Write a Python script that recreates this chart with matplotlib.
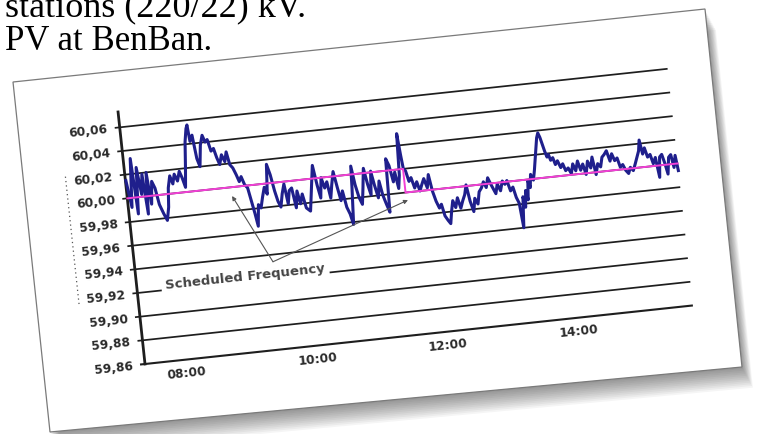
import matplotlib
matplotlib.use("Agg")
import matplotlib.pyplot as plt
from matplotlib.patches import Polygon
from matplotlib.transforms import Affine2D
import numpy as np

# document text around the picture
line1 = "stations (220/22) kV."
line2 = "PV at BenBan."

# frequency trace, hours of day / Hz
hours = [7.393, 7.443, 7.494, 7.529, 7.569, 7.610, 7.645, 7.680, 7.710, 7.745,
         7.781, 7.821, 7.861, 7.912, 7.957, 7.997, 8.022, 8.063, 8.098, 8.133,
         8.173, 8.214, 8.249, 8.284, 8.314, 8.350, 8.385, 8.405, 8.425, 8.465,
         8.501, 8.536, 8.576, 8.617, 8.652, 8.687, 8.727, 8.768, 8.803, 8.838,
         8.878, 8.919, 8.954, 8.989, 9.029, 9.070, 9.105, 9.140, 9.180, 9.221,
         9.256, 9.291, 9.321, 9.357, 9.392, 9.432, 9.473, 9.508, 9.543, 9.583,
         9.624, 9.659, 9.694, 9.734, 9.775, 9.810, 9.845, 9.885, 9.926, 9.961,
         9.996, 10.036, 10.077,
         10.135, 10.185, 10.235, 10.276, 10.311, 10.346, 10.386, 10.427, 10.462, 10.497,
         10.538, 10.578, 10.613, 10.648, 10.689, 10.729, 10.764, 10.799, 10.814, 10.850,
         10.890, 10.930, 10.965, 11.001, 11.041, 11.076, 11.106, 11.142, 11.182, 11.217,
         11.252, 11.293, 11.333, 11.353, 11.393, 11.434, 11.469, 11.504, 11.534, 11.560,
         11.585, 11.605, 11.635, 11.670, 11.706, 11.746, 11.786, 11.821, 11.857, 11.897,
         11.937, 11.972, 12.008, 12.048, 12.088, 12.123, 12.159, 12.199, 12.234, 12.265,
         12.300, 12.335, 12.375, 12.411, 12.451, 12.491, 12.526, 12.562, 12.602, 12.637,
         12.677, 12.713, 12.753, 12.793, 12.828, 12.864, 12.904,
         12.964, 12.999, 13.039, 13.080, 13.115, 13.150, 13.190, 13.231, 13.266, 13.301,
         13.331, 13.367, 13.392, 13.417, 13.442, 13.467, 13.493, 13.518, 13.553, 13.583,
         13.618, 13.644, 13.669, 13.694, 13.719, 13.744, 13.769, 13.795, 13.820, 13.845,
         13.880, 13.910, 13.946, 13.986, 14.021, 14.056, 14.097, 14.137, 14.172, 14.208,
         14.248, 14.283, 14.323, 14.359, 14.399, 14.439, 14.474, 14.510, 14.550, 14.590,
         14.625, 14.661, 14.701, 14.741, 14.776, 14.812, 14.852, 14.887, 14.927, 14.963,
         15.003, 15.038, 15.078, 15.114, 15.154, 15.189, 15.214, 15.245, 15.280, 15.315,
         15.356, 15.391, 15.431, 15.466, 15.496, 15.532, 15.567, 15.597, 15.632, 15.668,
         15.698, 15.733, 15.758]
freq = [60.015, 59.992, 60.033, 59.986, 60.025, 60.002, 60.019, 59.985, 60.020, 59.993,
        60.012, 60.006, 59.992, 59.984, 59.978, 59.989, 60.005, 60.015, 60.008, 60.016,
        60.010, 60.018, 60.012, 60.004, 60.020, 60.042, 60.053, 60.056, 60.042, 60.047,
        60.027, 60.020, 60.038, 60.046, 60.040, 60.042, 60.032, 60.034, 60.026, 60.020,
        60.028, 60.022, 60.030, 60.019, 60.016, 60.010, 60.004, 60.008, 60.001, 59.998,
        59.987, 59.976, 59.965, 59.983, 59.980, 59.989, 59.997, 59.991, 60.016, 60.007,
        59.993, 59.984, 59.979, 59.990, 59.998, 59.981, 59.992, 59.994, 59.977, 59.991,
        59.980, 59.988, 59.976,
        59.973, 59.992, 60.011, 59.994, 59.983, 60.000, 59.991, 59.996, 59.982, 59.993,
        60.004, 59.990, 59.979, 59.987, 59.973, 59.967, 59.958, 59.989, 60.007, 59.991,
        59.980, 59.974, 59.988, 60.004, 59.990, 59.981, 60.001, 59.989, 59.978, 59.992,
        59.980, 59.972, 59.965, 60.010, 60.004, 59.990, 59.998, 59.984, 59.995, 60.030,
        60.012, 60.000, 59.998, 59.989, 59.992, 59.983, 59.988, 59.980, 59.985, 59.990,
        59.982, 59.993, 59.979, 59.970, 59.964, 59.967, 59.957, 59.953, 59.950, 59.960,
        59.969, 59.963, 59.971, 59.962, 59.968, 59.973, 59.981, 59.967, 59.958, 59.969,
        59.964, 59.974, 59.977, 59.982, 59.977, 59.985, 59.979,
        59.971, 59.979, 59.973, 59.981, 59.978, 59.981, 59.972, 59.975, 59.966, 59.961,
        59.940, 59.966, 59.957, 59.971, 59.963, 59.979, 59.973, 59.984, 59.979, 59.987,
        59.998, 60.006, 60.014, 60.018, 60.014, 60.008, 60.002, 59.997, 59.999, 59.994,
        59.996, 59.990, 59.993, 59.987, 59.990, 59.984, 59.986, 59.981, 59.989, 59.983,
        59.991, 59.983, 59.988, 59.979, 59.990, 59.984, 59.993, 59.978, 59.987, 59.984,
        59.992, 59.994, 59.997, 59.988, 59.994, 59.988, 59.990, 59.982, 59.984, 59.979,
        59.976, 59.981, 59.978, 59.983, 59.989, 59.994, 60.003, 59.991, 59.996, 59.988,
        59.990, 59.982, 59.987, 59.970, 59.987, 59.989, 59.981, 59.972, 59.986, 59.988,
        59.977, 59.987, 59.974]

# scheduled frequency (step for time error correction)
sched_hours = [7.386, 11.60, 11.60, 15.758]
sched_freq = [60.00, 60.00, 59.98, 59.98]

y_ticks = [60.06, 60.04, 60.02, 60.00, 59.98, 59.96, 59.94, 59.92, 59.90, 59.88, 59.86]
y_labels = ["60,06", "60,04", "60,02", "60,00", "59,98", "59,96",
            "59,94", "59,92", "59,90", "59,88", "59,86"]
x_ticks = [8, 10, 12, 14]
x_labels = ["08:00", "10:00", "12:00", "14:00"]

note = "Scheduled Frequency"
note_pos = (9.041, 59.925)
note_from = (9.485, 59.934)
note_to = [(8.973, 59.9926), (11.625, 59.9735)]

t0, t1 = 7.386, 15.76
f0, f1 = 59.86, 60.073

fig = plt.figure(figsize=(7.58, 4.35), dpi=100)
page = fig.add_axes([0, 0, 1, 1])
page.set_xlim(0, 758)
page.set_ylim(435, 0)
page.axis("off")

# document text (first line is cut by the top edge in the reference too)
page.text(306, 16, line1, ha="right", va="baseline", fontsize=26,
          family="Liberation Serif", color="black")
page.text(212, 50, line2, ha="right", va="baseline", fontsize=25,
          family="Liberation Serif", color="black")

# the tilted picture card with a soft shadow
card = np.array([[13, 83], [705, 10], [742, 368], [50, 433]])
for i in range(12):
    sh = card + np.array([1.0 + i * 0.9, 2.0 + i * 1.7])
    page.add_patch(Polygon(sh, closed=True, facecolor="black",
                           edgecolor="none", alpha=0.04, zorder=1))
page.add_patch(Polygon(card, closed=True, facecolor="white",
                       edgecolor="#7a7a7a", lw=0.9, zorder=2))

# chart coordinates (hour, Hz) -> page pixels: scale then rotate ~6 deg
ang = np.deg2rad(6.1)
c, s = np.cos(ang), np.sin(ang)
rot = Affine2D(np.array([[c, -s, 145.0], [-s, -c, 365.0], [0, 0, 1]]))
chart = Affine2D().translate(-t0, -f0).scale(65.8, 1190.0) + rot
tr = chart + page.transData

tick = 5 / 65.8
grid_col = "#1e1e1e"
for f in y_ticks:
    page.plot([t0 - tick, t1], [f, f], transform=tr, color=grid_col,
              lw=1.5 if f == f0 else 1.25, zorder=3, solid_capstyle="butt")
page.plot([t0, t0], [f0, f1], transform=tr, color=grid_col, lw=2.0, zorder=3)

for f, lab in zip(y_ticks, y_labels):
    page.text(t0 - 12 / 65.8, f, lab, transform=tr, rotation=6.1,
              rotation_mode="anchor", ha="right", va="center",
              fontsize=8.8, fontweight="bold", color="#2a2a2a", zorder=3)
for h, lab in zip(x_ticks, x_labels):
    page.text(h, f0 - 13 / 1190, lab, transform=tr, rotation=6.1,
              rotation_mode="anchor", ha="center", va="center",
              fontsize=8.8, fontweight="bold", color="#2a2a2a", zorder=3)

# faint dotted axis title
page.plot([t0 - 0.9, t0 - 0.9], [59.916, 60.024], transform=tr,
          color="#555555", lw=0.9, ls=(0, (1, 2.5)), zorder=3)

page.plot(hours, freq, transform=tr, color="#1f1f8c", lw=2.2, zorder=4,
          solid_joinstyle="round")
page.plot(sched_hours, sched_freq, transform=tr, color="#f23fd6", lw=1.4,
          zorder=5)

page.text(note_pos[0], note_pos[1], note, transform=tr, rotation=6.1,
          rotation_mode="anchor", ha="center", va="center", fontsize=9.5,
          fontweight="bold", color="#444444", zorder=6,
          bbox=dict(facecolor="white", edgecolor="none", pad=3))
for tip in note_to:
    page.annotate("", xy=tip, xytext=note_from, xycoords=tr, textcoords=tr,
                  arrowprops=dict(arrowstyle="-|>", color="#555555", lw=0.8,
                                  mutation_scale=6, shrinkA=0, shrinkB=0),
                  zorder=6)

fig.savefig("out.png", dpi=100)
